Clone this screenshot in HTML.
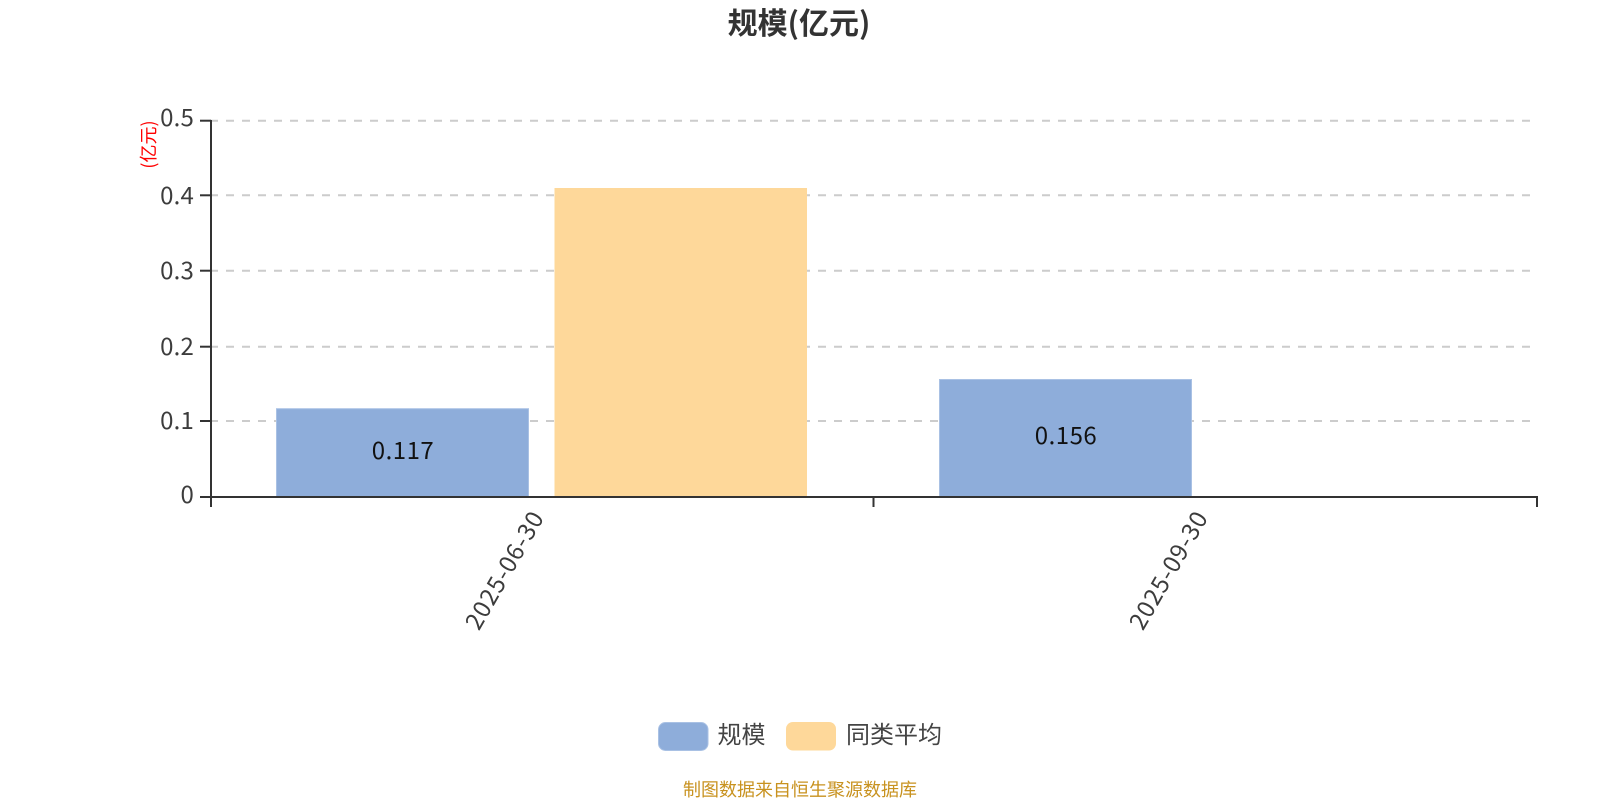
<!DOCTYPE html>
<html>
<head>
<meta charset="utf-8">
<style>
html,body{margin:0;padding:0;background:#fff;width:1600px;height:800px;overflow:hidden}
svg{display:block}
text{font-family:"Noto Sans CJK SC","Liberation Sans",sans-serif}
</style>
</head>
<body>
<svg width="1600" height="800" viewBox="0 0 1600 800" xmlns="http://www.w3.org/2000/svg">
<rect width="1600" height="800" fill="#fff"/>
<text x="799" y="34" text-anchor="middle" font-size="30" font-weight="700" fill="#333">规模(亿元)</text>

<g stroke="#ccc" stroke-width="2" stroke-dasharray="8 8" fill="none">
<line x1="210" y1="120.7" x2="1530" y2="120.7"/>
<line x1="210" y1="195.3" x2="1530" y2="195.3"/>
<line x1="210" y1="270.7" x2="1530" y2="270.7"/>
<line x1="210" y1="346.7" x2="1530" y2="346.7"/>
<line x1="210" y1="421" x2="1530" y2="421"/>
</g>

<rect x="276.5" y="408.7" width="252" height="88" fill="#8eadda" stroke="#a9c1e4" stroke-width="1"/>
<rect x="554.5" y="188" width="252.5" height="308.7" fill="#fed89a"/>
<rect x="939.5" y="379.5" width="252" height="117.2" fill="#8eadda" stroke="#a9c1e4" stroke-width="1"/>

<g stroke="#333" stroke-width="2" fill="none">
<line x1="211" y1="120" x2="211" y2="507"/>
<line x1="200" y1="120.7" x2="211" y2="120.7"/>
<line x1="200" y1="195.3" x2="211" y2="195.3"/>
<line x1="200" y1="270.7" x2="211" y2="270.7"/>
<line x1="200" y1="346.7" x2="211" y2="346.7"/>
<line x1="200" y1="421" x2="211" y2="421"/>
<line x1="200" y1="497" x2="1538" y2="497"/>
<line x1="873.5" y1="497" x2="873.5" y2="507"/>
<line x1="1537" y1="497" x2="1537" y2="507"/>
</g>

<g font-size="24" fill="#3c3c3c" text-anchor="end" letter-spacing="0.2">
<text x="194" y="126">0.5</text>
<text x="194" y="204">0.4</text>
<text x="194" y="279">0.3</text>
<text x="194" y="355">0.2</text>
<text x="194" y="429">0.1</text>
<text x="194" y="503">0</text>
</g>

<text transform="translate(155,144.5) rotate(-90)" text-anchor="middle" font-size="18" fill="#f00">(亿元)</text>

<text x="403" y="459" text-anchor="middle" font-size="24" fill="#111" letter-spacing="0.5">0.117</text>
<text x="1066" y="444" text-anchor="middle" font-size="24" fill="#111" letter-spacing="0.5">0.156</text>

<text transform="translate(545,517) rotate(-60)" text-anchor="end" font-size="24" fill="#3c3c3c" letter-spacing="0.9">2025-06-30</text>
<text transform="translate(1209,517) rotate(-60)" text-anchor="end" font-size="24" fill="#3c3c3c" letter-spacing="0.9">2025-09-30</text>

<rect x="658.5" y="722.5" width="49.5" height="28" rx="7" fill="#8eadda" stroke="#a9c1e4" stroke-width="1"/>
<text x="717.5" y="743" font-size="24" fill="#444">规模</text>
<rect x="786" y="722" width="50" height="28.5" rx="7" fill="#fed89a"/>
<text x="846" y="743" font-size="24" fill="#444">同类平均</text>

<text x="800" y="796" text-anchor="middle" font-size="18" fill="#c8921f">制图数据来自恒生聚源数据库</text>
</svg>
</body>
</html>
